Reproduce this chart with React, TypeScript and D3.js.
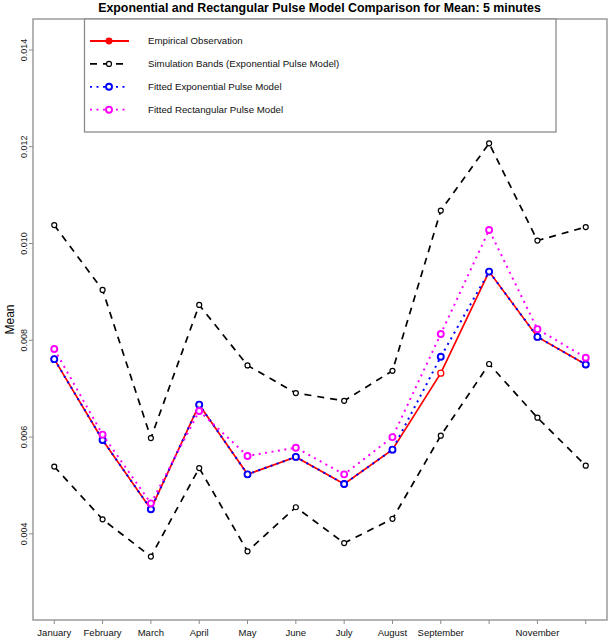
import React from "react";
import * as d3 from "d3";

const months = ["January","February","March","April","May","June","July","August","September","October","November","December"];
const monthLabels = ["January","February","March","April","May","June","July","August","September","","November",""];
const empirical = [0.00761,0.00594,0.00451,0.00667,0.00523,0.00559,0.00503,0.00574,0.00732,0.00942,0.00807,0.0075];
const upperBand = [0.01038,0.00904,0.00598,0.00873,0.00748,0.00691,0.00675,0.00737,0.01068,0.01207,0.01006,0.01034];
const lowerBand = [0.00539,0.0043,0.00353,0.00536,0.00364,0.00455,0.00381,0.00431,0.00603,0.00751,0.0064,0.00541];
const fittedExp = [0.00761,0.00594,0.00451,0.00667,0.00523,0.00559,0.00503,0.00574,0.00766,0.00942,0.00807,0.0075];
const fittedRect = [0.00782,0.00605,0.00463,0.00654,0.00561,0.00578,0.00523,0.006,0.00813,0.01028,0.00823,0.00764];
const yTicks = [0.004,0.006,0.008,0.01,0.012,0.014];
const yTickLabels = ["0.004","0.006","0.008","0.010","0.012","0.014"];
const legendLabels = ["Empirical Observation","Simulation Bands (Exponential Pulse Model)","Fitted Exponential Pulse Model","Fitted Rectangular Pulse Model"];

const W = 609, H = 639;
const L = 33, R = 607, T = 19, B = 620;
const FONT = "'Liberation Sans', Arial, sans-serif";

export default function App() {
  const x = d3.scaleLinear().domain([0.56, 12.44]).range([L, R]);
  const y = d3.scaleLinear().domain([0.00222, 0.01466]).range([B, T - 1]);
  const line = d3.line<number>().x((_, i) => x(i + 1)).y((d) => y(d));

  const series = [
    { data: empirical, color: "#ff0000", dash: undefined as string | undefined, width: 1.7, r: 3, sw: 1.3 },
    { data: upperBand, color: "#000000", dash: "7,6", width: 1.7, r: 2.5, sw: 1.2 },
    { data: lowerBand, color: "#000000", dash: "7,6", width: 1.7, r: 2.5, sw: 1.2 },
    { data: fittedExp, color: "#0000ff", dash: "2,4.5", width: 2, r: 3, sw: 1.9 },
    { data: fittedRect, color: "#ff00ff", dash: "2,4.5", width: 2, r: 3, sw: 1.9 },
  ];

  const legendItems = [
    { color: "#ff0000", dash: undefined as string | undefined, r: 2.8, sw: 1.3 },
    { color: "#000000", dash: "7,6", r: 2.5, sw: 1.2 },
    { color: "#0000ff", dash: "2,4.5", r: 3, sw: 1.9 },
    { color: "#ff00ff", dash: "2,4.5", r: 3, sw: 1.9 },
  ];

  return (
    <svg width={W} height={H} style={{ position: "absolute", left: 0, top: 0, background: "#fff" }} fontFamily={FONT}>
      <rect x={0} y={0} width={W} height={H} fill="#fff" />
      <text x={(L + R) / 2 - 0.5} y={11.5} textAnchor="middle" fontWeight="bold" fontSize={12.4} fill="#000">
        Exponential and Rectangular Pulse Model Comparison for Mean: 5 minutes
      </text>
      <rect x={L} y={T} width={R - L} height={B - T} fill="none" stroke="#8c8c8c" strokeWidth={1.3} />
      {yTicks.map((t, i) => (
        <g key={"yt" + i}>
          <line x1={L - 4} x2={L} y1={y(t)} y2={y(t)} stroke="#8c8c8c" strokeWidth={1} />
          <text transform={`translate(${L - 6},${y(t)}) rotate(-90)`} textAnchor="middle" fontSize={9} fill="#222">
            {yTickLabels[i]}
          </text>
        </g>
      ))}
      {months.map((m, i) => (
        <g key={"xt" + i}>
          <line x1={x(i + 1)} x2={x(i + 1)} y1={B} y2={B + 4} stroke="#8c8c8c" strokeWidth={1} />
          <text x={x(i + 1)} y={B + 15.5} textAnchor="middle" fontSize={9.5} fill="#111">
            {monthLabels[i]}
          </text>
        </g>
      ))}
      <text transform={`translate(14,${(T + B) / 2}) rotate(-90)`} textAnchor="middle" fontSize={12} fill="#000">
        Mean
      </text>
      {series.map((s, si) => (
        <g key={"s" + si}>
          <path d={line(s.data) || ""} fill="none" stroke={s.color} strokeWidth={s.width} strokeDasharray={s.dash} />
          {s.data.map((v, i) => (
            <circle key={i} cx={x(i + 1)} cy={y(v)} r={s.r} fill="#fff" stroke={s.color} strokeWidth={s.sw} />
          ))}
        </g>
      ))}
      <rect x={84.5} y={T} width={471.5} height={113} fill="#fff" stroke="#8c8c8c" strokeWidth={1.3} />
      {legendItems.map((it, i) => {
        const ly = 41 + i * 22.9;
        return (
          <g key={"lg" + i}>
            <line x1={90} x2={129} y1={ly} y2={ly} stroke={it.color} strokeWidth={1.8} strokeDasharray={it.dash} />
            <circle cx={109} cy={ly} r={it.r} fill={i === 0 ? "#ff0000" : "#fff"} stroke={it.color} strokeWidth={it.sw} />
            <text x={148} y={ly + 3.4} fontSize={9.7} fill="#111">{legendLabels[i]}</text>
          </g>
        );
      })}
    </svg>
  );
}
